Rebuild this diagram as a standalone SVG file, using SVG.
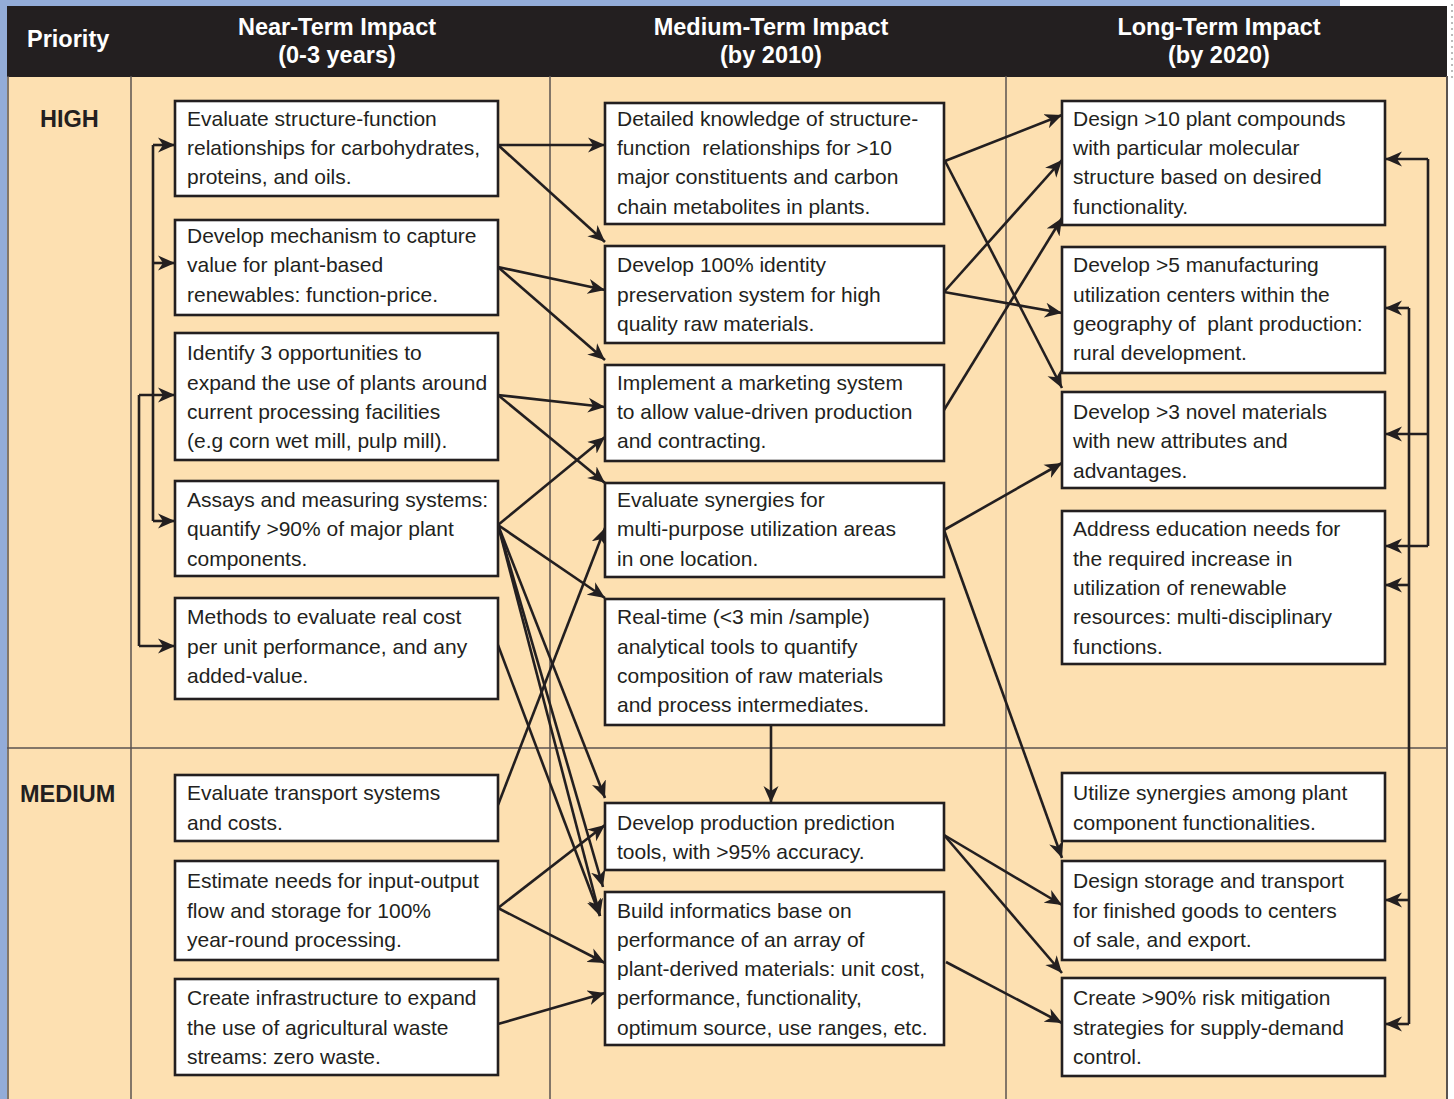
<svg xmlns="http://www.w3.org/2000/svg" width="1454" height="1099" viewBox="0 0 1454 1099">
<style>
.box{fill:#ffffff;stroke:#231f20;stroke-width:2.6}
.t{font-family:"Liberation Sans",Arial,sans-serif;font-size:21px;fill:#231f20}
.h{font-family:"Liberation Sans",Arial,sans-serif;font-size:23.5px;font-weight:bold;fill:#ffffff}
.p{font-family:"Liberation Sans",Arial,sans-serif;font-size:23.5px;font-weight:bold;fill:#231f20}
.grid{stroke:#5a5350;stroke-width:1.5;fill:none}
.c{stroke:#231f20;stroke-width:2.6;fill:none}
.a{stroke:#231f20;stroke-width:2.6;fill:none;marker-end:url(#ah)}
</style>
<defs>
<marker id="ah" markerUnits="userSpaceOnUse" markerWidth="18" markerHeight="16" viewBox="0 0 18 16" refX="17" refY="8" orient="auto">
<path d="M0,0.5 L17,8 L0,15.5 L5,8 Z" fill="#231f20"/>
</marker>
</defs>
<rect x="0" y="0" width="1454" height="1099" fill="#ffffff"/>
<rect x="0" y="0" width="8" height="1099" fill="#93acd8"/>
<rect x="0" y="0" width="1340" height="7" fill="#93acd8"/>
<line x1="1452" y1="4" x2="1452" y2="80" stroke="#777" stroke-width="1" stroke-dasharray="2,4"/>
<rect x="7" y="76" width="1440" height="1023" fill="#fde0b1"/>
<rect x="7" y="6" width="1440" height="71" fill="#231f20"/>
<g id="grid">
<line class="grid" x1="8" y1="76" x2="8" y2="1099"/>
<line class="grid" x1="131" y1="76" x2="131" y2="1099"/>
<line class="grid" x1="550" y1="76" x2="550" y2="1099"/>
<line class="grid" x1="1006" y1="76" x2="1006" y2="1099"/>
<line class="grid" x1="7" y1="748" x2="1447" y2="748"/>
<line x1="1447" y1="76" x2="1447" y2="1099" stroke="#5a5350" stroke-width="2"/>
</g>
<g id="header">
<text class="h" x="27" y="47">Priority</text>
<text class="h" x="337" y="35" text-anchor="middle">Near-Term Impact</text>
<text class="h" x="337" y="63" text-anchor="middle">(0-3 years)</text>
<text class="h" x="771" y="35" text-anchor="middle">Medium-Term Impact</text>
<text class="h" x="771" y="63" text-anchor="middle">(by 2010)</text>
<text class="h" x="1219" y="35" text-anchor="middle">Long-Term Impact</text>
<text class="h" x="1219" y="63" text-anchor="middle">(by 2020)</text>
<text class="p" x="40" y="127">HIGH</text>
<text class="p" x="20" y="802">MEDIUM</text>
</g>
<g id="connectors">
<path class="c" d="M153,145 L153,521"/>
<path class="a" d="M153,145 L175,145"/>
<path class="a" d="M153,263 L175,263"/>
<path class="a" d="M153,521 L175,521"/>
<path class="c" d="M139,395 L139,646"/>
<path class="a" d="M139,395 L175,395"/>
<path class="a" d="M139,646 L175,646"/>
<path class="c" d="M1428,159 L1428,546"/>
<path class="a" d="M1428,159 L1385,159"/>
<path class="a" d="M1428,434 L1385,434"/>
<path class="a" d="M1428,546 L1385,546"/>
<path class="c" d="M1409,308 L1409,1024"/>
<path class="a" d="M1409,308 L1385,308"/>
<path class="a" d="M1409,585 L1385,585"/>
<path class="a" d="M1409,900 L1385,900"/>
<path class="a" d="M1409,1024 L1385,1024"/>
<path class="a" d="M498,145 L605,145"/>
<path class="a" d="M498,145 L605,242"/>
<path class="a" d="M498,267 L605,290"/>
<path class="a" d="M498,267 L605,360"/>
<path class="a" d="M498,395 L605,407"/>
<path class="a" d="M498,395 L605,483"/>
<path class="a" d="M498,525 L605,437"/>
<path class="a" d="M498,525 L605,598"/>
<path class="a" d="M498,525 L605,798"/>
<path class="a" d="M498,525 L603,887"/>
<path class="a" d="M498,525 L600,916"/>
<path class="a" d="M498,645 L600,916"/>
<path class="a" d="M498,805 L605,528"/>
<path class="a" d="M498,908 L605,825"/>
<path class="a" d="M498,908 L605,963"/>
<path class="a" d="M498,1024 L605,993"/>
<path class="a" d="M771,725 L771,803"/>
<path class="a" d="M945,161 L1062,115"/>
<path class="a" d="M945,161 L1062,388"/>
<path class="a" d="M944,292 L1062,160"/>
<path class="a" d="M944,292 L1062,313"/>
<path class="a" d="M944,410 L1062,218"/>
<path class="a" d="M944,530 L1062,463"/>
<path class="a" d="M944,530 L1062,858"/>
<path class="a" d="M944,835 L1062,905"/>
<path class="a" d="M944,835 L1062,973"/>
<path class="a" d="M946,962 L1062,1023"/>
</g>
<g id="b1"><rect class="box" x="175" y="101" width="323" height="95"/><text class="t" x="187" y="126">Evaluate structure-function</text><text class="t" x="187" y="155">relationships for carbohydrates,</text><text class="t" x="187" y="184">proteins, and oils.</text></g>
<g id="b2"><rect class="box" x="175" y="220" width="323" height="95"/><text class="t" x="187" y="243">Develop mechanism to capture</text><text class="t" x="187" y="272">value for plant-based</text><text class="t" x="187" y="302">renewables: function-price.</text></g>
<g id="b3"><rect class="box" x="175" y="333" width="323" height="127"/><text class="t" x="187" y="360">Identify 3 opportunities to</text><text class="t" x="187" y="390">expand the use of plants around</text><text class="t" x="187" y="419">current processing facilities</text><text class="t" x="187" y="448">(e.g corn wet mill, pulp mill).</text></g>
<g id="b4"><rect class="box" x="175" y="481" width="323" height="95"/><text class="t" x="187" y="507">Assays and measuring systems:</text><text class="t" x="187" y="536">quantify &gt;90% of major plant</text><text class="t" x="187" y="566">components.</text></g>
<g id="b5"><rect class="box" x="175" y="598" width="323" height="101"/><text class="t" x="187" y="624">Methods to evaluate real cost</text><text class="t" x="187" y="654">per unit performance, and any</text><text class="t" x="187" y="683">added-value.</text></g>
<g id="b6"><rect class="box" x="175" y="775" width="323" height="66"/><text class="t" x="187" y="800">Evaluate transport systems</text><text class="t" x="187" y="830">and costs.</text></g>
<g id="b7"><rect class="box" x="175" y="861" width="323" height="99"/><text class="t" x="187" y="888">Estimate needs for input-output</text><text class="t" x="187" y="918">flow and storage for 100%</text><text class="t" x="187" y="947">year-round processing.</text></g>
<g id="b8"><rect class="box" x="175" y="979" width="323" height="96"/><text class="t" x="187" y="1005">Create infrastructure to expand</text><text class="t" x="187" y="1035">the use of agricultural waste</text><text class="t" x="187" y="1064">streams: zero waste.</text></g>
<g id="c1"><rect class="box" x="605" y="103" width="339" height="121"/><text class="t" x="617" y="126">Detailed knowledge of structure-</text><text class="t" x="617" y="155" xml:space="preserve">function  relationships for &gt;10</text><text class="t" x="617" y="184">major constituents and carbon</text><text class="t" x="617" y="214">chain metabolites in plants.</text></g>
<g id="c2"><rect class="box" x="605" y="246" width="339" height="97"/><text class="t" x="617" y="272">Develop 100% identity</text><text class="t" x="617" y="302">preservation system for high</text><text class="t" x="617" y="331">quality raw materials.</text></g>
<g id="c3"><rect class="box" x="605" y="365" width="339" height="96"/><text class="t" x="617" y="390">Implement a marketing system</text><text class="t" x="617" y="419">to allow value-driven production</text><text class="t" x="617" y="448">and contracting.</text></g>
<g id="c4"><rect class="box" x="605" y="483" width="339" height="94"/><text class="t" x="617" y="507">Evaluate synergies for</text><text class="t" x="617" y="536">multi-purpose utilization areas</text><text class="t" x="617" y="566">in one location.</text></g>
<g id="c5"><rect class="box" x="605" y="599" width="339" height="126"/><text class="t" x="617" y="624">Real-time (&lt;3 min /sample)</text><text class="t" x="617" y="654">analytical tools to quantify</text><text class="t" x="617" y="683">composition of raw materials</text><text class="t" x="617" y="712">and process intermediates.</text></g>
<g id="c6"><rect class="box" x="605" y="803" width="339" height="67"/><text class="t" x="617" y="830">Develop production prediction</text><text class="t" x="617" y="859">tools, with &gt;95% accuracy.</text></g>
<g id="c7"><rect class="box" x="605" y="892" width="339" height="153"/><text class="t" x="617" y="918">Build informatics base on</text><text class="t" x="617" y="947">performance of an array of</text><text class="t" x="617" y="976">plant-derived materials: unit cost,</text><text class="t" x="617" y="1005">performance, functionality,</text><text class="t" x="617" y="1035">optimum source, use ranges, etc.</text></g>
<g id="d1"><rect class="box" x="1062" y="101" width="323" height="124"/><text class="t" x="1073" y="126">Design &gt;10 plant compounds</text><text class="t" x="1073" y="155">with particular molecular</text><text class="t" x="1073" y="184">structure based on desired</text><text class="t" x="1073" y="214">functionality.</text></g>
<g id="d2"><rect class="box" x="1062" y="247" width="323" height="126"/><text class="t" x="1073" y="272">Develop &gt;5 manufacturing</text><text class="t" x="1073" y="302">utilization centers within the</text><text class="t" x="1073" y="331" xml:space="preserve">geography of  plant production:</text><text class="t" x="1073" y="360">rural development.</text></g>
<g id="d3"><rect class="box" x="1062" y="392" width="323" height="96"/><text class="t" x="1073" y="419">Develop &gt;3 novel materials</text><text class="t" x="1073" y="448">with new attributes and</text><text class="t" x="1073" y="478">advantages.</text></g>
<g id="d4"><rect class="box" x="1062" y="511" width="323" height="153"/><text class="t" x="1073" y="536">Address education needs for</text><text class="t" x="1073" y="566">the required increase in</text><text class="t" x="1073" y="595">utilization of renewable</text><text class="t" x="1073" y="624">resources: multi-disciplinary</text><text class="t" x="1073" y="654">functions.</text></g>
<g id="d5"><rect class="box" x="1062" y="773" width="323" height="68"/><text class="t" x="1073" y="800">Utilize synergies among plant</text><text class="t" x="1073" y="830">component functionalities.</text></g>
<g id="d6"><rect class="box" x="1062" y="861" width="323" height="99"/><text class="t" x="1073" y="888">Design storage and transport</text><text class="t" x="1073" y="918">for finished goods to centers</text><text class="t" x="1073" y="947">of sale, and export.</text></g>
<g id="d7"><rect class="box" x="1062" y="978" width="323" height="98"/><text class="t" x="1073" y="1005">Create &gt;90% risk mitigation</text><text class="t" x="1073" y="1035">strategies for supply-demand</text><text class="t" x="1073" y="1064">control.</text></g>
</svg>
